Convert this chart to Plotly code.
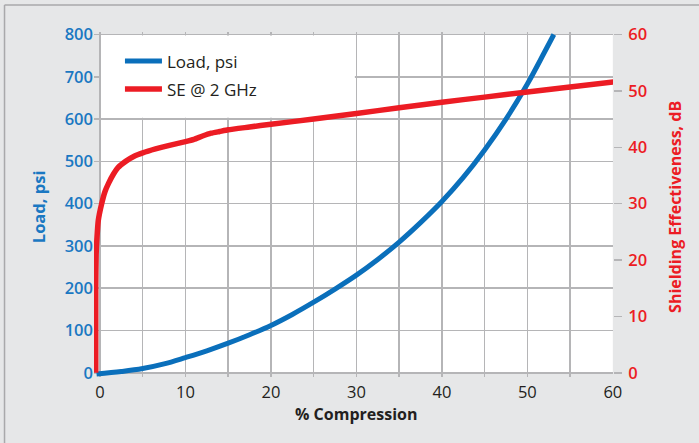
import plotly.graph_objects as go

# Load curve (psi) vs % compression
load_x = [-0.4, 2.5, 5, 7.5, 10, 12.5, 15, 17.5, 20, 22.5, 25, 27.5, 30, 32.5, 35, 37.5, 40, 42.5, 45, 47.5, 50, 52, 53.1]
load_y = [-3, 3, 10, 21, 36, 52, 70, 90, 112, 138, 167, 198, 231, 268, 309, 355, 405, 462, 527, 600, 683, 758, 800]

# Shielding effectiveness (dB) vs % compression
se_x = [-0.5, -0.5, -0.45, -0.35, -0.2, 0.2, 0.6, 1.0, 1.6, 2.1, 3.0, 4.0, 5.0, 6.5, 8.0, 10.0, 11.0, 12.0, 13.0, 14.0, 15.0, 17.5, 20, 25, 30, 35, 40, 45, 50, 55, 60.2]
se_y = [0, 15, 21, 24, 27, 30, 32.2, 33.6, 35.3, 36.4, 37.5, 38.4, 39.0, 39.7, 40.3, 41.0, 41.4, 42.0, 42.5, 42.8, 43.1, 43.6, 44.1, 45.0, 46.0, 47.0, 48.0, 48.9, 49.8, 50.7, 51.6]

x_ticks = [0, 10, 20, 30, 40, 50, 60]
left_ticks = [0, 100, 200, 300, 400, 500, 600, 700, 800]
right_ticks = [0, 10, 20, 30, 40, 50, 60]

BLUE = "#0a6fbb"
BLUE_TXT = "#1a78c2"
RED = "#ec1c24"
GRID = "#b5b5b7"
DARK = "#231f20"
BG = "#e6e7e8"
FONT = "Open Sans"

fig = go.Figure()
fig.add_trace(go.Scatter(x=load_x, y=load_y, mode="lines", name="Load, psi",
                         line=dict(color=BLUE, width=5, shape="spline", smoothing=1.0),
                         legendgroup="a"))
fig.add_trace(go.Scatter(x=se_x, y=se_y, mode="lines", name="SE @ 2 GHz", yaxis="y2",
                         line=dict(color=RED, width=5.5, shape="spline", smoothing=0.5),
                         legendgroup="b"))

Y1 = [-10, 806]
Y2 = [Y1[0] * 60 / 800, Y1[1] * 60 / 800]

fig.update_layout(
    width=699, height=443,
    margin=dict(l=94, r=86, t=32, b=66),
    paper_bgcolor=BG,
    plot_bgcolor=BG,
    font=dict(family=FONT, color=DARK, size=16),
    showlegend=True,
    hovermode=False,
    legend=dict(x=0.05, y=0.967, xanchor="left", yanchor="top", itemwidth=37,
                bgcolor="rgba(0,0,0,0)", tracegroupgap=3, traceorder="grouped",
                font=dict(family=FONT, size=17, color=DARK, weight=500)),
    xaxis=dict(range=[-0.7, 60.02], tickvals=x_ticks, ticktext=[str(v) for v in x_ticks],
               showgrid=True, gridcolor=GRID, gridwidth=1.5,
               minor=dict(dtick=5, showgrid=True, gridcolor=GRID, gridwidth=1.5),
               showline=False, ticks="", zeroline=False, ticklabelstandoff=3,
               tickfont=dict(family=FONT, size=16.5, color=DARK, weight=500)),
    yaxis=dict(range=Y1, tickvals=left_ticks, showgrid=True, gridcolor=GRID, gridwidth=1.5,
               showline=False, ticks="", zeroline=False,
               tickfont=dict(family=FONT, size=16.5, color=BLUE_TXT, weight=600)),
    yaxis2=dict(range=Y2, tickvals=right_ticks, overlaying="y", side="right",
                showgrid=False, zeroline=False, showline=False,
                ticks="outside", ticklen=8, tickwidth=1.5, tickcolor=GRID, ticklabelstandoff=3,
                tickfont=dict(family=FONT, size=16.5, color=RED, weight=600)),
    annotations=[
        dict(text="<b>Load, psi</b>", xref="paper", yref="paper", x=-0.108, y=0.495,
             xanchor="center", yanchor="middle",
             textangle=-90, showarrow=False, font=dict(family=FONT, size=16.5, color=BLUE_TXT)),
        dict(text="<b>Shielding Effectiveness, dB</b>", xref="paper", yref="paper", x=1.1195, y=0.493,
             xanchor="center", yanchor="middle",
             textangle=-90, showarrow=False, font=dict(family=FONT, size=16, color=RED)),
        dict(text="<b>% Compression</b>", xref="paper", yref="paper", x=0.505, y=-0.108,
             xanchor="center", yanchor="middle",
             showarrow=False, font=dict(family=FONT, size=16, color=DARK)),
    ],
    shapes=[
        # white plotting field (beneath gridlines)
        dict(type="rect", xref="x", yref="y", x0=0, x1=60, y0=0, y1=800,
             fillcolor="white", line=dict(width=0), layer="below"),
        # white box behind legend hiding gridlines
        dict(type="rect", xref="x", yref="y", x0=0.12, x1=29.82, y0=603, y1=798,
             fillcolor="white", line=dict(width=0), layer="between"),
        # outer frame (left and top)
        dict(type="line", xref="paper", yref="paper", x0=-0.1724, x1=-0.1724, y0=-0.3, y1=1.078,
             line=dict(color="#a9a9ab", width=1.5)),
        dict(type="line", xref="paper", yref="paper", x0=-0.1724, x1=1.3, y0=1.078, y1=1.078,
             line=dict(color="#a9a9ab", width=1.5)),
    ],
)

fig.write_html("out.html", post_script="document.body.style.margin='0';",
               config={"displayModeBar": False, "staticPlot": True})
